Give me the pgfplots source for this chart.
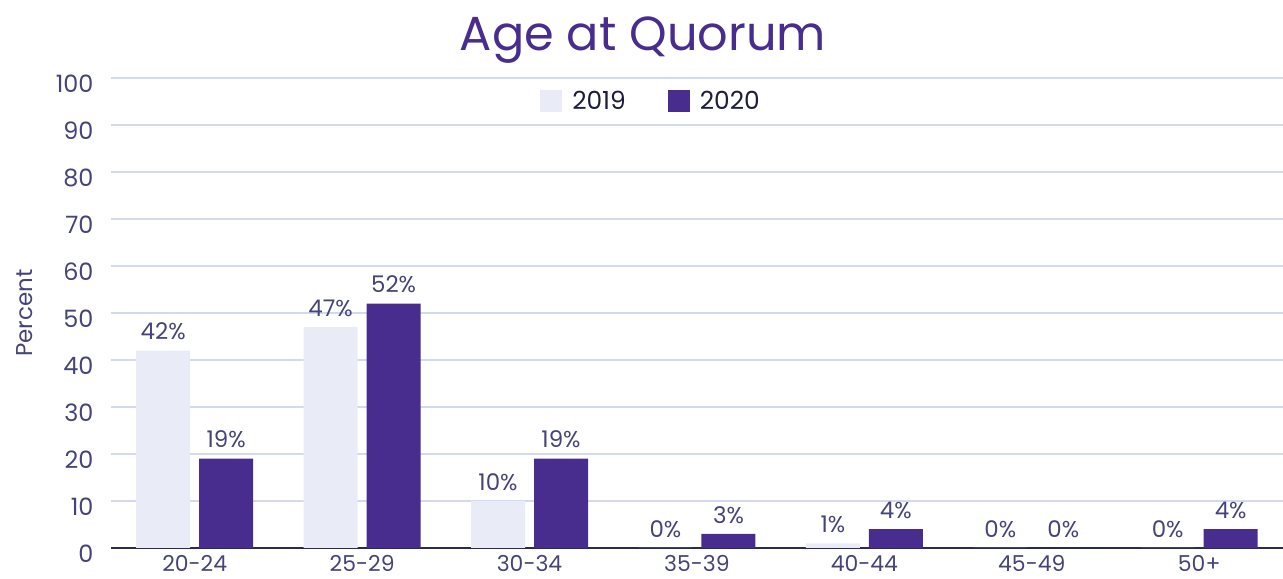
\documentclass[border=0pt]{standalone}
\usepackage{fontspec}
\setmainfont{Poppins}
\usepackage{pgfplots}
\pgfplotsset{compat=1.18}
\definecolor{c19}{HTML}{E9ECF7}
\definecolor{c20}{HTML}{482D8F}
\definecolor{tickc}{HTML}{44447A}
\definecolor{gridc}{HTML}{D3DAEE}
\definecolor{axisc}{HTML}{2B2B4B}
\definecolor{legc}{HTML}{1E1E3C}
\pgfplotsset{sqlegend/.style={legend image code/.code={\fill[##1] (0bp,-11bp) rectangle (22bp,11bp); \path (30bp,0bp);}}}
\begin{document}
\begin{tikzpicture}[x=1bp,y=1bp]
\path[use as bounding box] (0,0) rectangle (1283,579);
\begin{axis}[
  at={(111bp,31bp)}, anchor=south west,
  scale only axis, width=1172bp, height=470bp,
  xmin=-0.5, xmax=6.5, ymin=0, ymax=100,
  ybar=9bp, bar width=54bp,
  xtick={0,...,6},
  xticklabels={20-24,25-29,30-34,35-39,40-44,45-49,50+},
  ytick={0,10,...,100},
  /pgf/number format/assume math mode=true,
  axis x line*=bottom, axis y line*=left,
  y axis line style={draw=none},
  x axis line style={axisc, line width=2bp, -},
  major tick length=0pt,
  ymajorgrids, grid style={gridc, line width=1.5bp},
  yticklabel style={font=\fontsize{24}{24}\selectfont, text=tickc, xshift=-14bp, yshift=-6bp},
  xticklabel style={font=\fontsize{22}{22}\selectfont, text=tickc, inner sep=0pt, anchor=north, yshift=-7bp},
  ylabel={Percent},
  every axis y label/.style={at={(axis description cs:-0.0734,0.5)}, rotate=90, anchor=center, font=\fontsize{23}{23}\selectfont, text=tickc},
  legend columns=2,
  legend style={at={(axis description cs:0.4608,0.951)}, anchor=center, draw=none, fill=none,
    font=\fontsize{25}{25}\selectfont, text=legc,
    /tikz/every even column/.append style={column sep=40bp}},
  nodes near coords={\pgfmathprintnumber{\pgfplotspointmeta}\%},
  every node near coord/.append style={font=\fontsize{23}{23}\selectfont, text=tickc, yshift=7bp},
]
\addplot[fill=c19, draw=none, sqlegend] coordinates {(0,42) (1,47) (2,10) (3,0) (4,1) (5,0) (6,0)};
\addplot[fill=c20, draw=none, sqlegend] coordinates {(0,19) (1,52) (2,19) (3,3) (4,4) (5,0) (6,4)};
\legend{2019,2020}
\end{axis}
\node[text=c20, font=\fontsize{48}{48}\selectfont] at (643,539) {Age at Quorum};
\end{tikzpicture}
\end{document}
